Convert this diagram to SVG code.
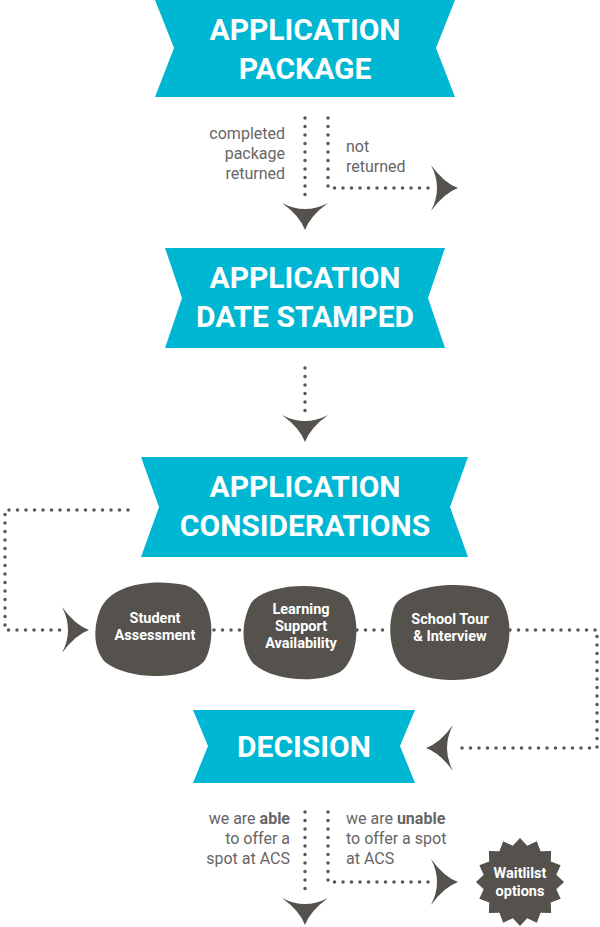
<svg xmlns="http://www.w3.org/2000/svg" width="600" height="927" viewBox="0 0 600 927">
<style>
.ban{fill:#00b7d3}
.t{font-family:Roboto,"DejaVu Sans",sans-serif;font-weight:700;font-size:30px;fill:#fff;text-anchor:middle}
.l{font-family:Roboto,"Liberation Sans",sans-serif;font-size:16px;fill:#666}
.b{font-family:Roboto,"Liberation Sans",sans-serif;font-weight:700;font-size:14.5px;fill:#fff;text-anchor:middle}
.d{fill:none;stroke:#5a5753;stroke-width:3.5;stroke-linecap:round;stroke-dasharray:0 8.5}
.blob{fill:#55524d}
</style>
<defs>
<path id="ad" d="M-23,-13 Q0,-1 23,-13 Q5,0 0,14 Q-5,0 -23,-13Z" fill="#55524d"/>
</defs>
<g id="connectors">
<path class="d" d="M305,118 V200"/>
<path class="d" d="M328,118 V188 H432"/>
<path class="d" d="M305,368 V412"/>
<path class="d" d="M128,510 H5 V630 H62"/>
<path class="d" d="M214,630 H244"/>
<path class="d" d="M357,630 H390"/>
<path class="d" d="M510,630 H597 V748 H455"/>
<path class="d" d="M305,812 V896"/>
<path class="d" d="M328,812 V882 H430"/>
<use href="#ad" transform="translate(305,216)"/>
<use href="#ad" transform="translate(444,188) rotate(-90)"/>
<use href="#ad" transform="translate(305,428)"/>
<use href="#ad" transform="translate(75,630) rotate(-90)"/>
<use href="#ad" transform="translate(440,748) rotate(90)"/>
<use href="#ad" transform="translate(305,911)"/>
<use href="#ad" transform="translate(444,882) rotate(-90)"/>
</g>
<g id="n1"><path class="ban" d="M155,0 H455 L436,48 L455,97 H155 L174,48Z"/>
<text class="t" x="305" y="40">APPLICATION</text><text class="t" x="305" y="79">PACKAGE</text></g>
<g id="lab1"><text class="l" text-anchor="end" x="285" y="139">completed</text><text class="l" text-anchor="end" x="285" y="159">package</text><text class="l" text-anchor="end" x="285" y="179">returned</text>
<text class="l" x="346" y="152">not</text><text class="l" x="346" y="172">returned</text></g>
<g id="n2"><path class="ban" d="M165,248 H445 L428,298 L445,348 H165 L182,298Z"/>
<text class="t" x="305" y="288">APPLICATION</text><text class="t" x="305" y="327">DATE STAMPED</text></g>
<g id="n3"><path class="ban" d="M141,457 H468 L450,507 L468,557 H141 L159,507Z"/>
<text class="t" x="305" y="497">APPLICATION</text><text class="t" x="305" y="536">CONSIDERATIONS</text></g>
<g id="n4"><path class="blob" d="M100,610 C110,585 150,578 185,585 C215,595 216,640 205,660 C190,680 130,682 105,662 C92,648 94,625 100,610Z"/>
<text class="b" x="155" y="623">Student</text><text class="b" x="155" y="640">Assessment</text></g>
<g id="n5"><path class="blob" d="M250,605 C262,582 330,580 348,598 C362,620 358,660 340,672 C315,685 268,680 252,662 C240,645 242,622 250,605Z"/>
<text class="b" x="301" y="614">Learning</text><text class="b" x="301" y="631">Support</text><text class="b" x="301" y="648">Availability</text></g>
<g id="n6"><path class="blob" d="M395,605 C410,582 480,578 500,598 C515,618 512,660 492,672 C468,685 418,682 400,664 C388,648 388,620 395,605Z"/>
<text class="b" x="450" y="624">School Tour</text><text class="b" x="450" y="641">&amp; Interview</text></g>
<g id="n7"><path class="ban" d="M193,710 H415 L400,746 L415,783 H193 L208,746Z"/>
<text class="t" x="304" y="757">DECISION</text></g>
<g id="lab2"><text class="l" text-anchor="end" x="290" y="824">we are <tspan font-weight="700">able</tspan></text><text class="l" text-anchor="end" x="290" y="844">to offer a</text><text class="l" text-anchor="end" x="290" y="864">spot at ACS</text>
<text class="l" x="346" y="824">we are <tspan font-weight="700">unable</tspan></text><text class="l" x="346" y="844">to offer a spot</text><text class="l" x="346" y="864">at ACS</text></g>
<g id="n8"><polygon class="blob" points="564,882 556.3,889.2 560.7,898.8 550.8,902.6 551.1,913.1 540.6,912.8 536.8,922.7 527.2,918.3 520,926 512.8,918.3 503.2,922.7 499.4,912.8 488.9,913.1 489.2,902.6 479.3,898.8 483.7,889.2 476,882 483.7,874.8 479.3,865.2 489.2,861.4 488.9,850.9 499.4,851.2 503.2,841.3 512.8,845.7 520,838 527.2,845.7 536.8,841.3 540.6,851.2 551.1,850.9 550.8,861.4 560.7,865.2 556.3,874.8"/>
<text class="b" x="520" y="878">Waitlilst</text><text class="b" x="520" y="896">options</text></g>
</svg>
